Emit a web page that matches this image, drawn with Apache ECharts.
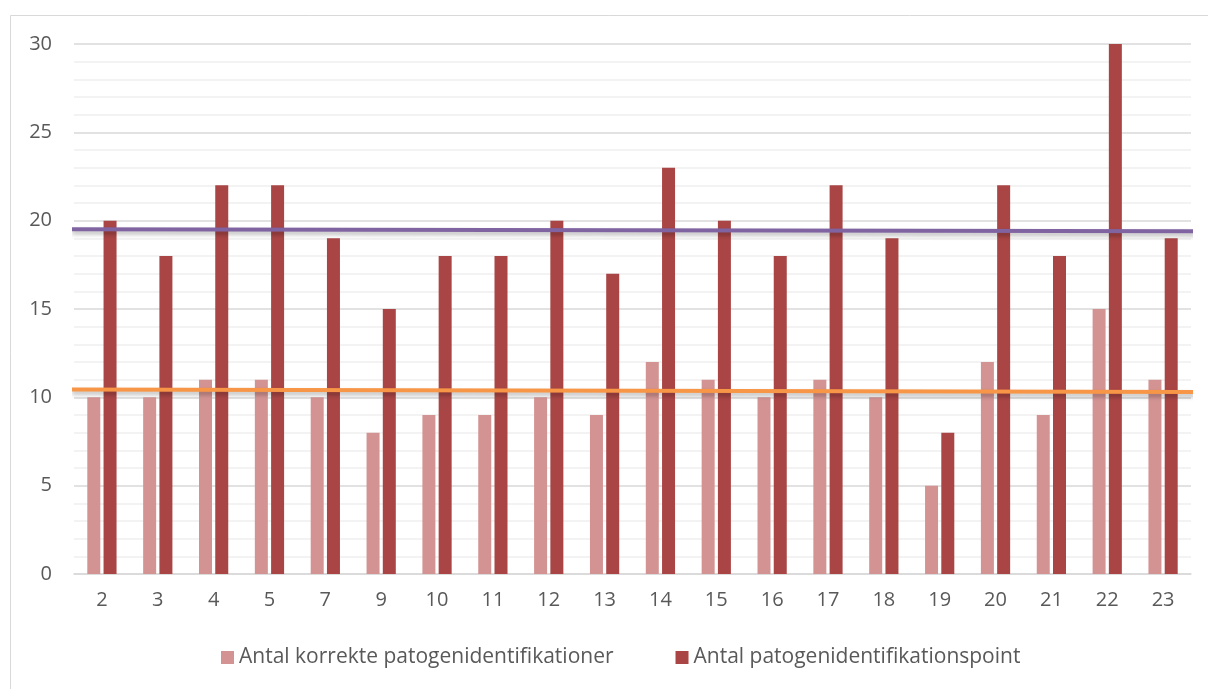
<!DOCTYPE html>
<html>
<head>
<meta charset="utf-8">
<script src="https://cdn.jsdelivr.net/npm/echarts@6/dist/echarts.min.js"></script>
<style>
  html, body { margin: 0; padding: 0; background: #ffffff; }
  #chart { width: 1208px; height: 689px; }
</style>
</head>
<body>
<div id="chart"></div>
<script>
// Patient case numbers along the x axis
const categories = ['2', '3', '4', '5', '7', '9', '10', '11', '12', '13', '14', '15', '16', '17', '18', '19', '20', '21', '22', '23'];
// Number of correct pathogen identifications per case
const correctIds = [10, 10, 11, 11, 10, 8, 9, 9, 10, 9, 12, 11, 10, 11, 10, 5, 12, 9, 15, 11];
// Pathogen identification points per case
const idPoints = [20, 18, 22, 22, 19, 15, 18, 18, 20, 17, 23, 20, 18, 22, 19, 8, 22, 18, 30, 19];
// Level lines drawn across the plot (start value, end value)
const pointsLevel = [19.51, 19.40];
const correctLevel = [10.45, 10.30];
const yTicks = { min: 0, max: 30, step: 5 };

const seriesNames = ['Antal korrekte patogenidentifikationer', 'Antal patogenidentifikationspoint'];
const FONT = '"Open Sans", "Liberation Sans", sans-serif';
const TEXT = '#595959';

const chart = echarts.init(document.getElementById('chart'), null, { renderer: 'canvas' });

function levelLine(vals, color) {
  return {
    type: 'line',
    xAxisIndex: 1,
    data: [[0, vals[0]], [1, vals[1]]],
    symbol: 'none',
    clip: false,
    silent: true,
    z: 5,
    lineStyle: {
      color: color,
      width: 4,
      shadowColor: 'rgba(0,0,0,0.28)',
      shadowBlur: 4,
      shadowOffsetY: 3
    }
  };
}

chart.setOption({
  animation: false,
  backgroundColor: '#ffffff',
  graphic: [{
    type: 'rect',
    shape: { x: 10.5, y: 15.5, width: 1220, height: 700 },
    style: { fill: 'none', stroke: '#d9d9d9', lineWidth: 1 },
    silent: true
  }],
  grid: { left: 74, right: 17, top: 44, bottom: 115, containLabel: false },
  legend: {
    data: seriesNames,
    bottom: 16,
    left: 216,
    itemWidth: 13,
    itemHeight: 13,
    itemGap: 62,
    icon: 'rect',
    textStyle: { color: TEXT, fontFamily: FONT, fontSize: 21 }
  },
  xAxis: [{
    type: 'category',
    data: categories,
    axisLine: { lineStyle: { color: '#d9d9d9', width: 1.5 } },
    axisTick: { show: false },
    axisLabel: { color: TEXT, fontFamily: FONT, fontSize: 20, margin: 16 }
  }, {
    type: 'value',
    min: 0.0018,
    max: 0.9964,
    show: false
  }],
  yAxis: {
    type: 'value',
    min: yTicks.min,
    max: yTicks.max,
    interval: yTicks.step,
    axisLine: { show: false },
    axisTick: { show: false },
    axisLabel: { color: TEXT, fontFamily: FONT, fontSize: 20, margin: 22 },
    splitLine: { lineStyle: { color: '#d9d9d9', width: 1.5 } },
    minorTick: { show: false, splitNumber: 5 },
    minorSplitLine: { show: true, lineStyle: { color: '#efefef', width: 1.5 } }
  },
  series: [{
    name: seriesNames[0],
    type: 'bar',
    data: correctIds,
    barWidth: 13,
    barGap: '25%',
    itemStyle: { color: '#d39393' }
  }, {
    name: seriesNames[1],
    type: 'bar',
    data: idPoints,
    barWidth: 13,
    itemStyle: { color: '#a94545' }
  },
  levelLine(pointsLevel, '#8064a2'),
  levelLine(correctLevel, '#f79646')
  ]
});
</script>
</body>
</html>
